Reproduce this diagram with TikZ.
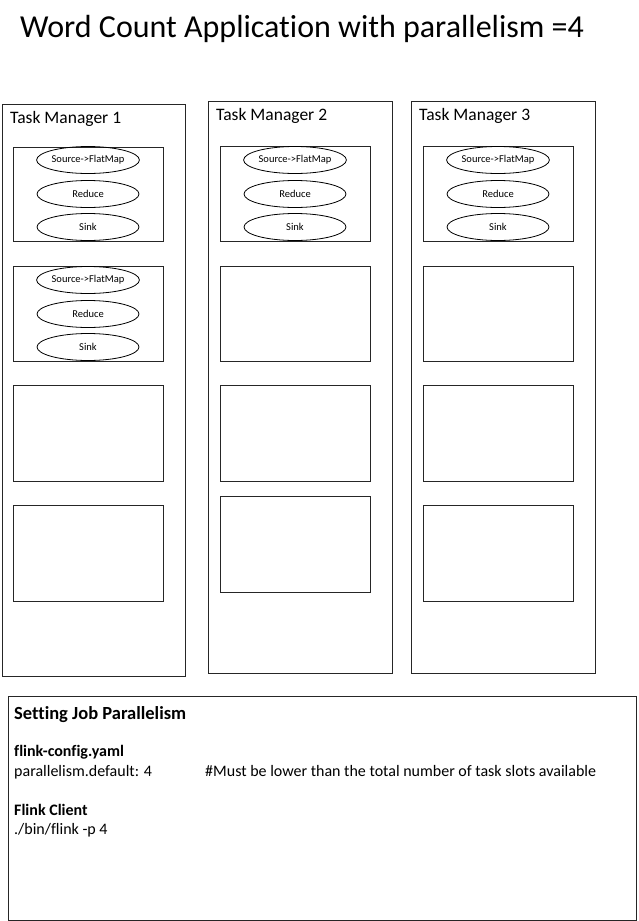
\documentclass[tikz,border=0pt]{standalone}
\usepackage{fontspec}
\setmainfont[Ligatures=NoCommon]{Carlito}
\usetikzlibrary{shapes.geometric}
\begin{document}
\begin{tikzpicture}[x=1pt,y=-1pt,
  frame/.style={draw=black!85, line width=1pt, inner sep=0pt, outer sep=0pt},
  opbox/.style={draw=black, line width=0.8pt, ellipse, minimum width=102pt, minimum height=27pt, inner sep=0pt, font=\fontsize{10.5}{11}\selectfont},
  tmlabel/.style={anchor=west, inner sep=0pt, font=\fontsize{17.5}{19}\selectfont},
  txt/.style={anchor=base west, inner sep=0pt, font=\fontsize{16}{18}\selectfont},
  btxt/.style={anchor=base west, inner sep=0pt, font=\fontsize{16}{18}\selectfont\bfseries}]
\useasboundingbox[fill=white] (0,0) rectangle (638,921);
% title
\node[anchor=west, inner sep=0pt, font=\fontsize{32}{36}\selectfont] (title) at (20,29) {Word Count Application with parallelism =4};
% task managers
\node[frame, minimum width=183pt, minimum height=572pt] (tm1) at (93.5,390) {};
\node[frame, minimum width=184pt, minimum height=572pt] (tm2) at (300,387) {};
\node[frame, minimum width=184pt, minimum height=572pt] (tm3) at (503,387) {};
\node[tmlabel] (tm1l) at (10,119) {Task Manager 1};
\node[tmlabel] (tm2l) at (216,116) {Task Manager 2};
\node[tmlabel] (tm3l) at (419,116) {Task Manager 3};
% slots
\foreach \n/\cx/\a/\b in {1/88/147/241, 2/88/266/361, 3/88/385/481, 4/88/505/601}{
  \node[frame, line width=0.9pt, minimum width=150pt, minimum height={(\b-\a)*1pt}] (s1\n) at (\cx,{(\a+\b)/2}) {};}
\foreach \n/\cx/\a/\b in {1/295/146/241, 2/295/266/361, 3/295/385/481, 4/295/496/592}{
  \node[frame, line width=0.9pt, minimum width=150pt, minimum height={(\b-\a)*1pt}] (s2\n) at (\cx,{(\a+\b)/2}) {};}
\foreach \n/\cx/\a/\b in {1/498/146/241, 2/498/266/361, 3/498/385/481, 4/498/505/601}{
  \node[frame, line width=0.9pt, minimum width=150pt, minimum height={(\b-\a)*1pt}] (s3\n) at (\cx,{(\a+\b)/2}) {};}
% operators
\foreach \id/\cx/\y in {a/88/160, b/295/160, c/498/160, d/88/280}{
  \node[opbox] (src\id) at (\cx,\y) {Source-{>}FlatMap};
  \node[opbox] (red\id) at (\cx,\y+34) {Reduce};
  \node[opbox] (snk\id) at (\cx,\y+67) {Sink};}
% settings box
\node[frame, minimum width=628pt, minimum height=224pt] (set) at (322,808) {};
\node[btxt, font=\fontsize{18.5}{20}\selectfont\bfseries] (sethead) at (14,719) {Setting Job Parallelism};
\node[btxt] (cfg) at (14,756) {flink-config.yaml};
\node[txt] (pd) at (14,776) {parallelism.default: 4};
\node[txt] (note) at (205,776) {\#Must be lower than the total number of task slots available};
\node[btxt] (cli) at (14,815) {Flink Client};
\node[txt] (cmd) at (14,834) {./bin/flink -p 4};
\end{tikzpicture}
\end{document}
